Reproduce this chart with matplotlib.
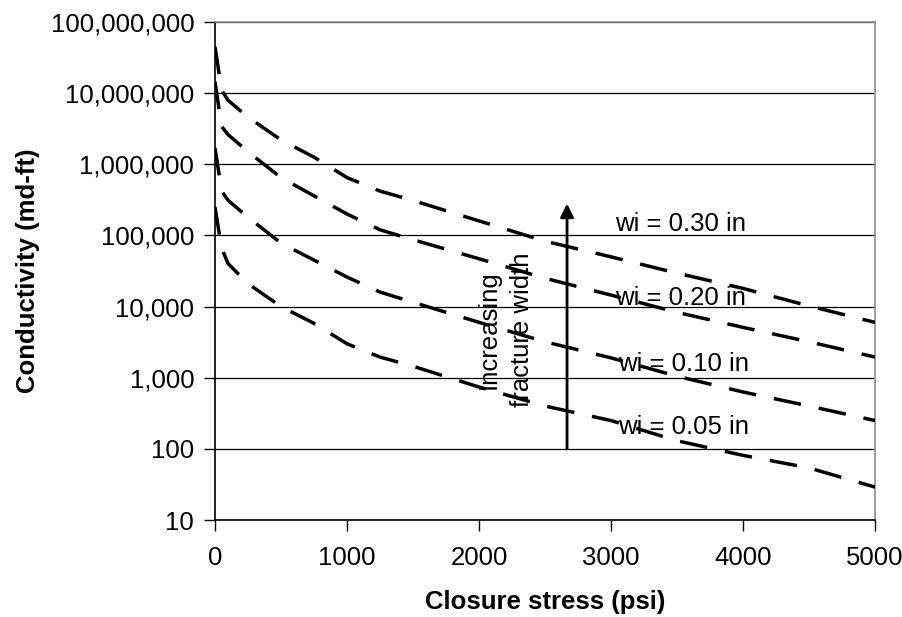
import matplotlib
matplotlib.use('Agg')
import matplotlib.pyplot as plt
from matplotlib.ticker import FuncFormatter, NullLocator, FixedLocator

plt.rcParams['font.family'] = ['Liberation Sans', 'DejaVu Sans']
plt.rcParams['lines.scale_dashes'] = False

# closure stress (psi)
stress = [0, 50, 100, 250, 500, 750, 1000, 1250, 1500, 2000, 2500, 3000, 3500, 4000, 4500, 5000]

# conductivity (md-ft) for each initial fracture width
cond_030 = [4.5e7, 1.1e7, 7.9e6, 4.6e6, 2.2e6, 1.26e6, 6.5e5, 4.2e5, 3.1e5, 1.6e5, 8.3e4, 5.0e4, 2.95e4, 1.8e4, 1.02e4, 6.0e3]
cond_020 = [1.45e7, 3.4e6, 2.6e6, 1.5e6, 6.5e5, 3.6e5, 2.0e5, 1.2e5, 8.7e4, 4.7e4, 2.5e4, 1.45e4, 8.3e3, 5.1e3, 3.2e3, 1.95e3]
cond_010 = [1.7e6, 4.2e5, 3.1e5, 1.8e5, 7.8e4, 4.5e4, 2.6e4, 1.6e4, 1.15e4, 6.0e3, 3.2e3, 1.9e3, 1.05e3, 630, 400, 250]
cond_005 = [2.5e5, 6.6e4, 4.0e4, 2.1e4, 1.0e4, 5.8e3, 3.0e3, 1.95e3, 1.45e3, 740, 400, 250, 130, 81, 54, 29]

curves = [cond_030, cond_020, cond_010, cond_005]
labels = ['wi = 0.30 in', 'wi = 0.20 in', 'wi = 0.10 in', 'wi = 0.05 in']
label_pos = [(3030, 1.45e5), (3030, 1.3e4), (3055, 1.55e3), (3055, 200)]

yticks = [10, 100, 1e3, 1e4, 1e5, 1e6, 1e7, 1e8]
xticks = [0, 1000, 2000, 3000, 4000, 5000]

fs = 18.5

fig = plt.figure(figsize=(9.03, 6.17), dpi=100)
ax = fig.add_axes([215 / 903, 1 - 520 / 617, 660 / 903, 498 / 617])

ax.set_yscale('log')
ax.set_xlim(0, 5000)
ax.set_ylim(10, 1e8)

for c in curves:
    ax.plot(stress, c, color='black', lw=2.5, dashes=(20, 13), zorder=3)

for txt, (x, y) in zip(labels, label_pos):
    ax.text(x, y, txt, fontsize=fs, ha='left', va='center', zorder=1)

# arrow and rotated note
ax.annotate('', xy=(2667, 2.8e5), xytext=(2667, 100),
            arrowprops=dict(arrowstyle='-|>', lw=2, color='black',
                            mutation_scale=20, shrinkA=0, shrinkB=0), zorder=2)
ax.text(2200, 4700, 'Increasing\nfracture width', rotation=90, fontsize=fs,
        ha='center', va='center', multialignment='center', linespacing=1.5, zorder=1)

ax.yaxis.set_major_locator(FixedLocator(yticks))
ax.yaxis.set_minor_locator(NullLocator())
ax.yaxis.set_major_formatter(FuncFormatter(lambda v, p: f'{v:,.0f}'))
ax.set_xticks(xticks)
ax.tick_params(axis='both', labelsize=fs, direction='out', length=8, width=1, color='black')
ax.tick_params(axis='y', pad=7)
ax.tick_params(axis='x', pad=11)

ax.grid(axis='y', color='black', lw=0.9)
ax.set_axisbelow(True)

ax.spines['left'].set_color('black')
ax.spines['bottom'].set_color('black')
ax.spines['top'].set_color('#909090')
ax.spines['right'].set_color('#909090')
for s in ax.spines.values():
    s.set_linewidth(1.2)

fig.text(28 / 903, 1 - 271 / 617, 'Conductivity (md-ft)', rotation=90, fontsize=fs,
         fontweight='bold', ha='center', va='center')
fig.text(545 / 903, 1 - 602 / 617, 'Closure stress (psi)', fontsize=fs,
         fontweight='bold', ha='center', va='center')

fig.savefig('out.png', dpi=100)
